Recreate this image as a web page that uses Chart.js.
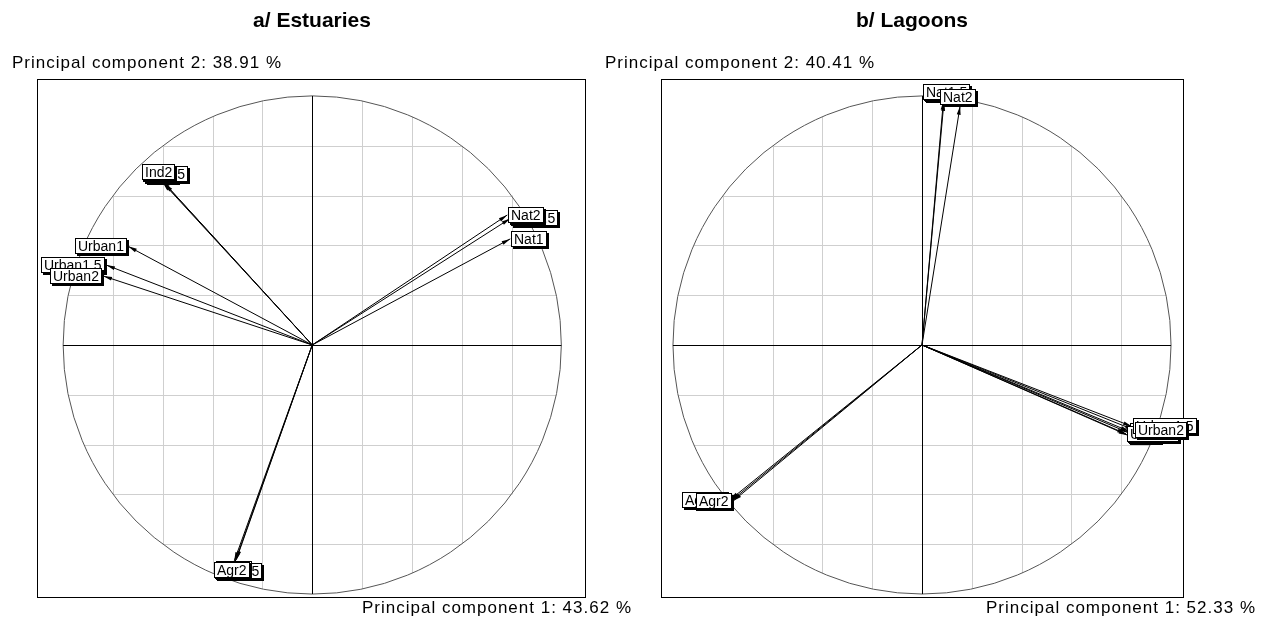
<!DOCTYPE html>
<html>
<head>
<meta charset="utf-8">
<script src="https://cdn.jsdelivr.net/npm/chart.js@4.4.1/dist/chart.umd.min.js"></script>
<style>
  html, body { margin: 0; padding: 0; background: #fff; }
  #wrap { position: relative; width: 1261px; height: 624px; overflow: hidden; }
  .panel { position: absolute; top: 0; height: 624px; }
</style>
</head>
<body>
<div id="wrap">
  <div class="panel" style="left:0px;width:640px"><canvas id="estuaries"></canvas></div>
  <div class="panel" style="left:590px;width:671px"><canvas id="lagoons"></canvas></div>
</div>
<script>
// variable names (drawn in this order, last on top)
const varNames = ['Ind1', 'Ind1.5', 'Ind2', 'Urban1', 'Urban1.5', 'Urban2',
                  'Agr1', 'Agr1.5', 'Agr2', 'Nat1', 'Nat1.5', 'Nat2'];

// a/ Estuaries: correlations with PC1 / PC2
const estX = [-0.592, -0.600, -0.602, -0.739, -0.827, -0.839,
              -0.305, -0.310, -0.313, 0.795, 0.795, 0.783];
const estY = [0.648, 0.652, 0.659, 0.396, 0.321, 0.277,
              -0.862, -0.871, -0.867, 0.426, 0.508, 0.522];

// b/ Lagoons
const lagX = [0.825, 0.829, 0.833, 0.819, 0.843, 0.851,
              -0.765, -0.771, -0.759, 0.088, 0.086, 0.153];
const lagY = [-0.362, -0.352, -0.347, -0.357, -0.327, -0.341,
              -0.625, -0.622, -0.627, 0.975, 0.980, 0.960];

const panelTitles = ['a/ Estuaries', 'b/ Lagoons'];
const pc2Labels = ['Principal component 2: 38.91 %', 'Principal component 2: 40.41 %'];
const pc1Labels = ['Principal component 1: 43.62 %', 'Principal component 1: 52.33 %'];

const gridSteps = [-0.8, -0.6, -0.4, -0.2, 0.2, 0.4, 0.6, 0.8];

const corCircle = {
  id: 'corCircle',
  beforeDatasetsDraw(chart, args, opts) {
    const ctx = chart.ctx;
    const xs = chart.scales.x, ys = chart.scales.y;
    const a = chart.chartArea;
    ctx.save();
    // grid inside the unit circle
    ctx.strokeStyle = '#cfcfcf';
    ctx.lineWidth = 1;
    gridSteps.forEach(g => {
      const h = Math.sqrt(1 - g * g);
      ctx.beginPath();
      ctx.moveTo(Math.round(xs.getPixelForValue(g)) + 0.5, ys.getPixelForValue(-h));
      ctx.lineTo(Math.round(xs.getPixelForValue(g)) + 0.5, ys.getPixelForValue(h));
      ctx.moveTo(xs.getPixelForValue(-h), Math.round(ys.getPixelForValue(g)) + 0.5);
      ctx.lineTo(xs.getPixelForValue(h), Math.round(ys.getPixelForValue(g)) + 0.5);
      ctx.stroke();
    });
    // circle
    const cx = xs.getPixelForValue(0), cy = ys.getPixelForValue(0);
    const r = xs.getPixelForValue(1) - cx;
    ctx.strokeStyle = '#555';
    ctx.beginPath();
    ctx.arc(cx, cy, r, 0, Math.PI * 2);
    ctx.stroke();
    // axes
    ctx.strokeStyle = '#000';
    ctx.beginPath();
    ctx.moveTo(xs.getPixelForValue(-1), Math.round(cy) + 0.5);
    ctx.lineTo(xs.getPixelForValue(1), Math.round(cy) + 0.5);
    ctx.moveTo(Math.round(cx) + 0.5, ys.getPixelForValue(1));
    ctx.lineTo(Math.round(cx) + 0.5, ys.getPixelForValue(-1));
    ctx.stroke();
    // frame
    ctx.strokeRect(Math.round(a.left) + 0.5, Math.round(a.top) + 0.5,
                   Math.round(a.right - a.left), Math.round(a.bottom - a.top));
    ctx.restore();
  },
  afterDatasetsDraw(chart, args, opts) {
    const ctx = chart.ctx;
    const xs = chart.scales.x, ys = chart.scales.y;
    const cx = xs.getPixelForValue(0), cy = ys.getPixelForValue(0);
    ctx.save();
    // arrow heads
    ctx.fillStyle = '#000';
    opts.vx.forEach((v, i) => {
      const px = xs.getPixelForValue(v), py = ys.getPixelForValue(opts.vy[i]);
      const ang = Math.atan2(py - cy, px - cx);
      ctx.beginPath();
      ctx.moveTo(px, py);
      ctx.lineTo(px - 9 * Math.cos(ang - 0.22), py - 9 * Math.sin(ang - 0.22));
      ctx.lineTo(px - 9 * Math.cos(ang + 0.22), py - 9 * Math.sin(ang + 0.22));
      ctx.closePath();
      ctx.fill();
    });
    // labels in boxes
    ctx.font = '14px "Liberation Sans", Arial, sans-serif';
    ctx.textBaseline = 'middle';
    opts.vx.forEach((v, i) => {
      const vy = opts.vy[i];
      const px = xs.getPixelForValue(v), py = ys.getPixelForValue(vy);
      const w = Math.round(ctx.measureText(varNames[i]).width) + 6, h = 16;
      let bx, by;
      if (Math.abs(v) >= Math.abs(vy)) {
        bx = v > 0 ? px + 1 : px - 1 - w;
        by = py - h / 2;
      } else {
        bx = px - 20;
        by = vy > 0 ? py - 1 - h : py + 1;
      }
      bx = Math.round(bx); by = Math.round(by);
      ctx.fillStyle = '#000';
      ctx.fillRect(bx + 2, by + 2, w, h);
      ctx.fillStyle = '#fff';
      ctx.fillRect(bx, by, w, h);
      ctx.strokeStyle = '#000';
      ctx.lineWidth = 1;
      ctx.strokeRect(bx + 0.5, by + 0.5, w - 1, h - 1);
      ctx.fillStyle = '#000';
      ctx.textAlign = 'left';
      ctx.fillText(varNames[i], bx + 3, by + h / 2 + 1);
    });
    ctx.restore();
  },
  afterDraw(chart, args, opts) {
    const ctx = chart.ctx;
    ctx.save();
    ctx.fillStyle = '#000';
    ctx.textBaseline = 'alphabetic';
    ctx.font = 'bold 21px "Liberation Sans", Arial, sans-serif';
    ctx.textAlign = 'center';
    ctx.fillText(opts.title, opts.titleX, 27);
    ctx.font = '17px "Liberation Sans", Arial, sans-serif';
    ctx.letterSpacing = '1px';
    ctx.textAlign = 'left';
    ctx.fillText(opts.pc2, opts.pc2X, 68);
    ctx.textAlign = 'right';
    ctx.fillText(opts.pc1, opts.pc1Right, 613);
    ctx.restore();
  }
};

function makePanel(id, vx, vy, k, lay) {
  const datasets = varNames.map((n, i) => ({
    label: n,
    data: [{ x: 0, y: 0 }, { x: vx[i], y: vy[i] }],
    showLine: true,
    borderColor: '#000',
    borderWidth: 1,
    pointRadius: 0,
    clip: false
  }));
  return new Chart(document.getElementById(id), {
    type: 'scatter',
    data: { datasets },
    options: {
      responsive: true,
      maintainAspectRatio: false,
      animation: false,
      layout: { padding: lay.padding },
      scales: {
        x: { type: 'linear', min: lay.xMin, max: lay.xMax, display: false },
        y: { type: 'linear', min: -1.012, max: 1.068, display: false }
      },
      plugins: {
        legend: { display: false },
        tooltip: { enabled: false },
        corCircle: {
          vx, vy,
          title: panelTitles[k], titleX: lay.titleX,
          pc2: pc2Labels[k], pc2X: lay.pc2X,
          pc1: pc1Labels[k], pc1Right: lay.pc1Right
        }
      }
    },
    plugins: [corCircle]
  });
}

makePanel('estuaries', estX, estY, 0, {
  padding: { left: 37, right: 55, top: 79, bottom: 27 },
  xMin: -1.105, xMax: 1.095,
  titleX: 312, pc2X: 12, pc1Right: 632
});
makePanel('lagoons', lagX, lagY, 1, {
  padding: { left: 71, right: 78, top: 79, bottom: 27 },
  xMin: -1.048, xMax: 1.048,
  titleX: 322, pc2X: 15, pc1Right: 666
});
</script>
</body>
</html>
